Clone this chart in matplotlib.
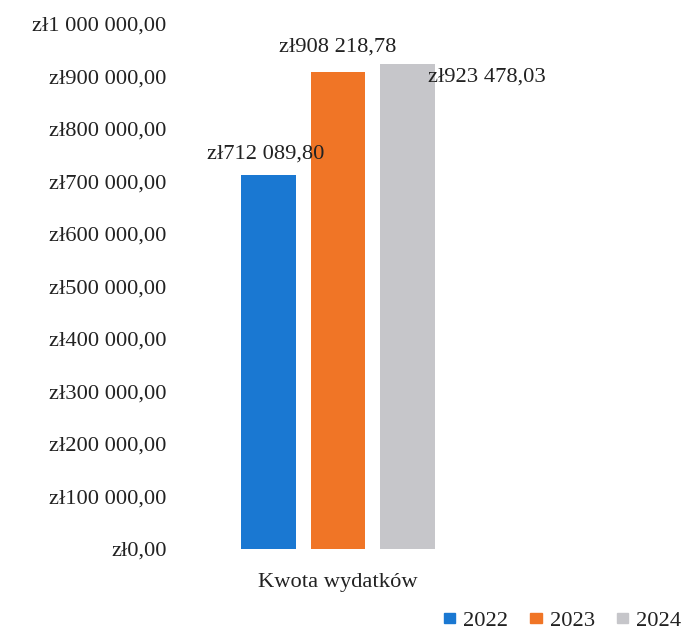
import matplotlib.pyplot as plt
from matplotlib.ticker import FuncFormatter
from matplotlib.patches import Patch

years = ['2022', '2023', '2024']
values = [712089.80, 908218.78, 923478.03]
category = 'Kwota wydatków'
colors = ['#1a78d2', '#f07526', '#c6c6ca']

plt.rcParams['font.family'] = ['Liberation Serif', 'DejaVu Serif']
FS = 16.2


def pln(v, pos=None):
    # "zł908 218,78" style
    s = f"{v:,.2f}".replace(',', ' ').replace('.', ',')
    return 'zł' + s


fig = plt.figure(figsize=(6.93, 6.39), dpi=100)
ax = fig.add_axes([175 / 693, 90 / 639, 326 / 693, 525 / 639])

offsets = [-1, 0, 1]
bars = ax.bar(offsets, values, width=0.79, color=colors)

ax.set_xlim(-2.345, 2.345)
ax.set_ylim(0, 1000000)
ax.set_yticks(range(0, 1000001, 100000))
ax.yaxis.set_major_formatter(FuncFormatter(pln))
ax.set_xticks([0])
ax.set_xticklabels([category])
ax.tick_params(axis='both', length=0, labelsize=FS, colors='#222222')
ax.tick_params(axis='y', pad=6)
ax.tick_params(axis='x', pad=17)
for sp in ax.spines.values():
    sp.set_visible(False)

# data labels
ax.annotate(pln(values[0]), (offsets[0], values[0]), xytext=(-2, 8),
            textcoords='offset points', ha='center', va='bottom',
            fontsize=FS, color='#222222')
ax.annotate(pln(values[1]), (offsets[1], values[1]), xytext=(0, 11),
            textcoords='offset points', ha='center', va='bottom',
            fontsize=FS, color='#222222')
ax.annotate(pln(values[2]), (offsets[2] + 0.3, values[2]), xytext=(0, -16),
            textcoords='offset points', ha='left', va='bottom',
            fontsize=FS, color='#222222')

handles = [Patch(color=c, label=y) for c, y in zip(colors, years)]
fig.legend(handles=handles, loc='lower right', bbox_to_anchor=(1.006, -0.012),
           ncol=3, frameon=False, fontsize=FS, handlelength=0.5,
           handleheight=0.35, handletextpad=0.35, columnspacing=1.0,
           borderpad=0.2, labelcolor='#222222')

fig.savefig('out.png', dpi=100)
